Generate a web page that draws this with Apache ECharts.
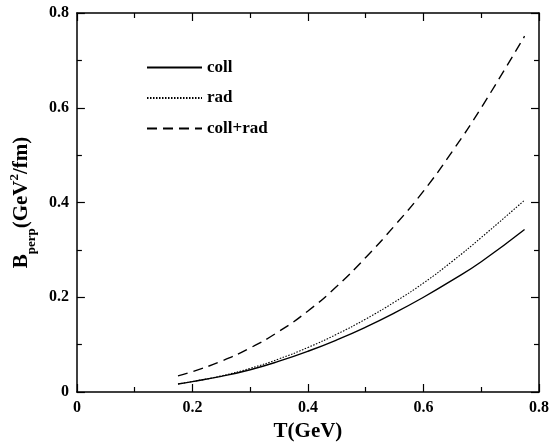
<!DOCTYPE html>
<html>
<head>
<meta charset="utf-8">
<script src="https://cdn.jsdelivr.net/npm/echarts@6/dist/echarts.min.js"></script>
<style>
  html, body { margin: 0; padding: 0; background: #fff; }
  #chart { width: 552px; height: 447px; }
</style>
</head>
<body>
<div id="chart"></div>
<script>
// values
const tValues = [0.175, 0.2, 0.25, 0.3, 0.35, 0.4, 0.45, 0.5, 0.55, 0.6, 0.65, 0.7, 0.775]
const collValues = [0.017, 0.022, 0.033, 0.047, 0.065, 0.086, 0.110, 0.137, 0.167, 0.200, 0.236, 0.275, 0.343]
const radValues = [0.017, 0.022, 0.034, 0.050, 0.070, 0.094, 0.122, 0.154, 0.190, 0.230, 0.276, 0.326, 0.405]
const totalValues = [0.034, 0.043, 0.065, 0.093, 0.128, 0.171, 0.223, 0.284, 0.351, 0.424, 0.508, 0.600, 0.751]
const seriesNames = ['coll', 'rad', 'coll+rad']
const tickLabels = ['0', '0.2', '0.4', '0.6', '0.8']

const FONT = '"Liberation Serif", "DejaVu Serif", serif'
const pairs = vals => tValues.map((t, i) => [t, vals[i]])
const fmt = v => tickLabels[Math.round(v / 0.2)]

const chart = echarts.init(document.getElementById('chart'))

const axisBase = {
  type: 'value', min: 0, max: 0.8, interval: 0.2,
  axisLine: { show: true, onZero: false, lineStyle: { color: '#000', width: 1.5 } },
  axisTick: { show: true, inside: true, length: 8, lineStyle: { color: '#000', width: 1.2 } },
  minorTick: { show: true, splitNumber: 2, length: 5, lineStyle: { color: '#000', width: 1.2 } },
  splitLine: { show: false }
}
const labelStyle = { formatter: fmt, margin: 8, fontFamily: FONT, fontWeight: 'bold', fontSize: 16, color: '#000' }

chart.setOption({
  animation: false,
  grid: { left: 76, right: 13, top: 13, bottom: 55 },
  legend: {
    orient: 'vertical', left: 146, top: 59, padding: 0,
    itemWidth: 55, itemHeight: 14, itemGap: 13.5,
    data: seriesNames,
    itemStyle: { opacity: 0 },
    textStyle: { fontFamily: FONT, fontWeight: 'bold', fontSize: 17, color: '#000' }
  },
  xAxis: [
    Object.assign({}, axisBase, {
      position: 'bottom',
      name: 'T(GeV)', nameLocation: 'middle', nameGap: 27,
      nameTextStyle: { fontFamily: FONT, fontWeight: 'bold', fontSize: 21, color: '#000' },
      axisLabel: labelStyle
    }),
    Object.assign({}, axisBase, { position: 'top', axisLabel: { show: false } })
  ],
  yAxis: [
    Object.assign({}, axisBase, {
      position: 'left',
      name: '{b|B}{sub|perp}{b|(GeV}{sup|2}{b|/fm)}',
      nameLocation: 'middle', nameGap: 40, nameRotate: 90,
      nameTextStyle: {
        rich: {
          b: { fontFamily: FONT, fontWeight: 'bold', fontSize: 21, color: '#000', verticalAlign: 'bottom' },
          sub: { fontFamily: FONT, fontWeight: 'bold', fontSize: 13, color: '#000', padding: [0, 0, -6, 0], verticalAlign: 'bottom' },
          sup: { fontFamily: FONT, fontWeight: 'bold', fontSize: 13, color: '#000', padding: [0, 0, 11, 0], verticalAlign: 'bottom' }
        }
      },
      axisLabel: labelStyle
    }),
    Object.assign({}, axisBase, { position: 'right', axisLabel: { show: false } })
  ],
  series: [
    {
      name: 'coll', type: 'line', data: pairs(collValues), smooth: true, showSymbol: false, symbol: 'none',
      lineStyle: { color: '#000', width: 1.4, type: 'solid' }, itemStyle: { color: '#000' }
    },
    {
      name: 'rad', type: 'line', data: pairs(radValues), smooth: true, showSymbol: false, symbol: 'none',
      lineStyle: { color: '#000', width: 1.1, type: [1.5, 1.5] }, itemStyle: { color: '#000' }
    },
    {
      name: 'coll+rad', type: 'line', data: pairs(totalValues), smooth: true, showSymbol: false, symbol: 'none',
      lineStyle: { color: '#000', width: 1.4, type: [10, 6] }, itemStyle: { color: '#000' }
    }
  ]
})
</script>
</body>
</html>
